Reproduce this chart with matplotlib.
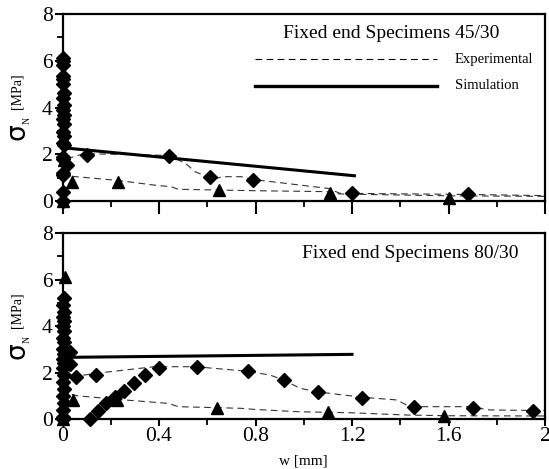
import matplotlib
matplotlib.use("Agg")
import matplotlib.pyplot as plt
from matplotlib.ticker import MultipleLocator, FixedLocator

plt.rcParams['font.family'] = ['Liberation Serif', 'DejaVu Sans']

# ---------------- data: panel 1 (45/30) ----------------
top_col_w = [0.0, 0.002, 0.004, 0.001, 0.003, 0.002, 0.005, 0.004, 0.006, 0.003, 0.005, 0.004,
             0.006, 0.003, 0.005, 0.004, 0.006, 0.002, 0.004, 0.003, 0.002, 0.003, 0.002]
top_col_s = [0.0, 0.4, 1.1, 1.2, 1.8, 1.9, 2.4, 2.5, 2.8, 2.95, 3.3, 3.5, 3.7, 3.9, 4.1,
             4.4, 4.6, 5.0, 5.2, 5.35, 5.8, 6.0, 6.1]
top_dia_w = [0.02, 0.10, 0.44, 0.61, 0.79, 1.20, 1.68]
top_dia_s = [1.54, 1.97, 1.92, 1.04, 0.90, 0.36, 0.30]
top_tri_w = [0.0, 0.005, 0.04, 0.23, 0.65, 1.11, 1.60]
top_tri_s = [0.0, 1.75, 0.83, 0.83, 0.47, 0.33, 0.13]
top_exp1_w = [0.0, 0.024, 0.093, 0.16, 0.44, 0.51, 0.55, 0.61, 0.62, 0.66, 0.74, 0.79, 1.10, 1.15, 1.68, 2.0]
top_exp1_s = [2.3, 1.82, 2.04, 2.01, 1.95, 1.61, 1.25, 1.0, 0.9, 1.04, 1.04, 0.92, 0.54, 0.33, 0.28, 0.23]
top_exp2_w = [0.0, 0.02, 0.045, 0.10, 0.23, 0.38, 0.45, 0.48, 0.80, 1.10, 1.15, 1.61, 2.0]
top_exp2_s = [1.3, 1.2, 1.05, 1.0, 0.88, 0.68, 0.61, 0.50, 0.44, 0.40, 0.30, 0.22, 0.20]
top_sim_w = [0.0, 1.21]
top_sim_s = [2.28, 1.08]

# ---------------- data: panel 2 (80/30) ----------------
bot_col_w = [0.0, 0.003, 0.002, 0.005, 0.004, 0.006, 0.003, 0.005, 0.004, 0.006, 0.003,
             0.005, 0.004, 0.006, 0.003, 0.005, 0.004, 0.006, 0.003, 0.005, 0.004, 0.006,
             0.03, 0.03]
bot_col_s = [0.0, 0.1, 0.4, 0.7, 1.0, 1.3, 1.6, 1.9, 2.2, 2.4, 2.6, 2.8, 3.0, 3.3, 3.5,
             3.8, 4.0, 4.2, 4.4, 4.6, 4.9, 5.2, 2.37, 2.9]
bot_dia_w = [0.056, 0.14, 0.40, 0.557, 0.77, 0.92, 1.06, 1.24, 1.455, 1.70, 1.95]
bot_dia_s = [1.82, 1.89, 2.18, 2.25, 2.06, 1.68, 1.18, 0.92, 0.50, 0.49, 0.34]
bot_load_w = [0.114, 0.149, 0.18, 0.218, 0.255, 0.297, 0.342]
bot_load_s = [0.0, 0.36, 0.67, 0.96, 1.22, 1.53, 1.89]
bot_tri_w = [0.0, 0.01, 0.042, 0.225, 0.64, 1.10, 1.58]
bot_tri_s = [0.0, 6.09, 0.82, 0.82, 0.46, 0.29, 0.13]
bot_exp1_w = [0.0, 0.024, 0.045, 0.135, 0.38, 0.55, 0.77, 0.86, 0.916, 0.985, 1.055, 1.165, 1.25, 1.385, 1.44, 1.69, 1.77, 2.0]
bot_exp1_s = [2.7, 2.32, 1.82, 1.96, 2.25, 2.25, 2.05, 1.89, 1.68, 1.32, 1.17, 1.03, 0.93, 0.82, 0.53, 0.53, 0.39, 0.36]
bot_exp2_w = [0.0, 0.024, 0.06, 0.22, 0.44, 0.48, 0.74, 0.80, 0.985, 1.19, 1.43, 1.60, 2.0]
bot_exp2_s = [1.3, 1.1, 1.0, 0.85, 0.67, 0.53, 0.46, 0.41, 0.31, 0.27, 0.17, 0.14, 0.13]
bot_sim_w = [0.0, 1.2]
bot_sim_s = [2.65, 2.78]

x_ticks = [0, 0.4, 0.8, 1.2, 1.6, 2.0]
x_ticklabels = ['0', '0.4', '0.8', '1.2', '1.6', '2']
y_ticks = [0, 2, 4, 6, 8]

W, H = 549, 469
fig = plt.figure(figsize=(W / 100, H / 100), dpi=100)

def px_axes(l, r, t, b):
    return [l / W, 1 - b / H, (r - l) / W, (b - t) / H]

ax1 = fig.add_axes(px_axes(62.5, 545, 14, 201))
ax2 = fig.add_axes(px_axes(62.5, 545, 233, 419))

def style(ax, show_xlabels, maj_len):
    ax.set_xlim(0, 2)
    ax.set_ylim(0, 8)
    for s in ax.spines.values():
        s.set_linewidth(1.6)
    ax.xaxis.set_major_locator(FixedLocator(x_ticks))
    ax.xaxis.set_minor_locator(MultipleLocator(0.2))
    ax.yaxis.set_major_locator(FixedLocator(y_ticks))
    ax.yaxis.set_minor_locator(MultipleLocator(1))
    ax.tick_params(axis='x', which='major', direction='out', length=maj_len, width=1.5)
    ax.tick_params(axis='x', which='minor', direction='out', length=4, width=1.3)
    ax.tick_params(axis='y', which='major', direction='out', length=6, width=1.5, pad=1)
    ax.tick_params(axis='y', which='minor', direction='out', length=4, width=1.3)
    ax.set_yticklabels([str(v) for v in y_ticks], fontsize=15.5)
    if show_xlabels:
        ax.set_xticklabels(x_ticklabels, fontsize=15.5)
        ax.tick_params(axis='x', which='major', pad=1)
    else:
        ax.set_xticklabels([])

style(ax1, False, 9)
style(ax2, True, 5)

dash_kw = dict(color='#333333', lw=0.8, dashes=(6, 4))
mk_kw = dict(ls='none', color='black', clip_on=False, zorder=5)
DMS = 7
TMS = 8.5

# panel 1
ax1.plot(top_exp1_w, top_exp1_s, **dash_kw)
ax1.plot(top_exp2_w, top_exp2_s, **dash_kw)
ax1.plot(top_sim_w, top_sim_s, color='black', lw=2.2)
ax1.plot(top_col_w, top_col_s, marker='D', ms=DMS, **mk_kw)
ax1.plot(top_dia_w, top_dia_s, marker='D', ms=DMS, **mk_kw)
ax1.plot(top_tri_w, top_tri_s, marker='^', ms=TMS, **mk_kw)

# panel 2
ax2.plot(bot_exp1_w, bot_exp1_s, **dash_kw)
ax2.plot(bot_exp2_w, bot_exp2_s, **dash_kw)
ax2.plot(bot_sim_w, bot_sim_s, color='black', lw=2.2)
ax2.plot(bot_col_w, bot_col_s, marker='D', ms=DMS, **mk_kw)
ax2.plot(bot_dia_w, bot_dia_s, marker='D', ms=DMS, **mk_kw)
ax2.plot(bot_load_w, bot_load_s, marker='D', ms=DMS, **mk_kw)
ax2.plot(bot_tri_w, bot_tri_s, marker='^', ms=TMS, **mk_kw)

# titles inside panels
ax1.text(0.456, 0.898, 'Fixed end Specimens 45/30', transform=ax1.transAxes,
         ha='left', va='center', fontsize=14)
ax2.text(0.497, 0.892, 'Fixed end Specimens 80/30', transform=ax2.transAxes,
         ha='left', va='center', fontsize=14)

# legend (manual, in panel 1)
ax1.plot([0.399, 0.776], [0.759, 0.759], transform=ax1.transAxes, color='black',
         lw=0.8, dashes=(6, 4))
ax1.plot([0.399, 0.776], [0.615, 0.615], transform=ax1.transAxes, color='black', lw=2.4)
ax1.text(0.813, 0.759, 'Experimental', transform=ax1.transAxes, ha='left', va='center', fontsize=10.5)
ax1.text(0.813, 0.615, 'Simulation', transform=ax1.transAxes, ha='left', va='center', fontsize=10.5)

# y labels (sigma_N [MPa]) built from pieces
def ylabel(dy):
    fig.text(25 / W, 1 - (140 + dy) / H, 'σ', rotation=90, rotation_mode='anchor',
             ha='left', va='baseline', fontsize=19, family=['DejaVu Sans'])
    fig.text(30 / W, 1 - (124 + dy) / H, 'N', rotation=90, rotation_mode='anchor',
             ha='left', va='baseline', fontsize=7)
    fig.text(21 / W, 1 - (109 + dy) / H, '[MPa]', rotation=90, rotation_mode='anchor',
             ha='left', va='baseline', fontsize=10)

ylabel(0)
ylabel(219)

ax2.set_xlabel('w [mm]', fontsize=11, labelpad=6)

fig.savefig('out.png', dpi=100)
